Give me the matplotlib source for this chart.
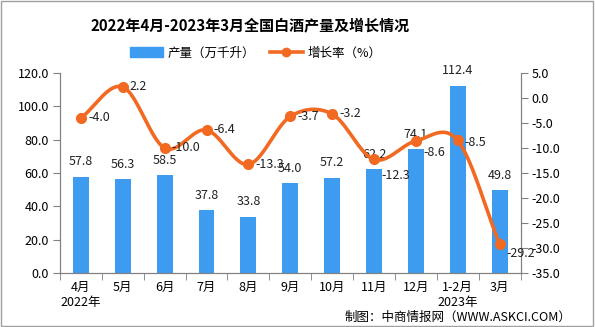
import numpy as np
import matplotlib.pyplot as plt
from matplotlib.lines import Line2D
from matplotlib.patches import Patch, Rectangle

plt.rcParams['font.family'] = ['Noto Sans CJK SC', 'DejaVu Sans']

months = ['4月\n2022年', '5月', '6月', '7月', '8月', '9月', '10月', '11月', '12月', '1-2月\n2023年', '3月']
output = [57.8, 56.3, 58.5, 37.8, 33.8, 54.0, 57.2, 62.2, 74.1, 112.4, 49.8]
growth = [-4.0, 2.2, -10.0, -6.4, -13.3, -3.7, -3.2, -12.3, -8.6, -8.5, -29.2]

bar_color = '#3d9cf0'
line_color = '#f26a22'


def smooth(x, y, n=30):
    # catmull-rom through the points, just for the curved look
    x = np.asarray(x, float)
    y = np.asarray(y, float)
    px = np.concatenate([[2 * x[0] - x[1]], x, [2 * x[-1] - x[-2]]])
    py = np.concatenate([[2 * y[0] - y[1]], y, [2 * y[-1] - y[-2]]])
    xs, ys = [], []
    t = np.linspace(0, 1, n)
    for i in range(1, len(px) - 2):
        for p, out in ((px, xs), (py, ys)):
            p0, p1, p2, p3 = p[i - 1], p[i], p[i + 1], p[i + 2]
            out.extend(0.5 * (2 * p1 + (-p0 + p2) * t + (2 * p0 - 5 * p1 + 4 * p2 - p3) * t ** 2
                              + (-p0 + 3 * p1 - 3 * p2 + p3) * t ** 3))
    return np.array(xs), np.array(ys)


fig = plt.figure(figsize=(5.95, 3.27), dpi=100)
fig.patches.append(Rectangle((0.002, 0.004), 0.995, 0.993, transform=fig.transFigure,
                             fill=False, edgecolor='#a0a0a0', lw=1))
ax = fig.add_axes([0.1008, 0.1651, 0.7740, 0.6117])
ax2 = ax.twinx()

x = np.arange(len(months))
ax.bar(x, output, width=0.38, color=bar_color, zorder=2)
for xi, v in zip(x, output):
    ax.text(xi, v + 5, f'{v:.1f}', ha='center', va='bottom', fontsize=9, color='#222222')

sx, sy = smooth(x, growth)
ax2.plot(sx, sy, color=line_color, lw=2.6, zorder=3)
ax2.plot(x, growth, 'o', color=line_color, ms=7, zorder=4)
# label nudges (in right-axis units) so they sit like the original
nudge = {7: -3.2, 8: -2.4, 9: -0.4, 10: -1.8}
for i, (xi, v) in enumerate(zip(x, growth)):
    ax2.text(xi + 0.17, v + nudge.get(i, 0), f'{v:.1f}', ha='left', va='center', fontsize=9,
             color='#222222', zorder=5)

ax.set_xlim(-0.5, len(months) - 0.5)
ax.set_ylim(0, 120)
ax.set_yticks(np.arange(0, 121, 20))
ax.set_yticklabels([f'{v:.1f}' for v in np.arange(0, 121, 20)])
ax2.set_ylim(-35, 5)
ax2.set_yticks(np.arange(-35, 6, 5))
ax2.set_yticklabels([f'{v:.1f}' for v in np.arange(-35, 6, 5)])

ax.set_xticks(x)
ax.set_xticklabels(months)
ax.set_xticks(np.arange(-0.5, len(months), 1), minor=True)
ax.tick_params(axis='x', which='major', length=0, pad=6, labelsize=9)
ax.tick_params(axis='x', which='minor', length=5, color='#808080')
ax.tick_params(axis='y', length=5, color='#808080', labelsize=9, pad=3)
ax2.tick_params(axis='y', length=5, color='#808080', labelsize=9, pad=3)

for a in (ax, ax2):
    a.spines['top'].set_visible(False)
    for s in ('left', 'right', 'bottom'):
        a.spines[s].set_color('#808080')

fig.text(0.421, 0.924, '2022年4月-2023年3月全国白酒产量及增长情况', ha='center', va='center',
         fontsize=10.8, fontweight='bold')
handles = [Patch(color=bar_color), Line2D([], [], color=line_color, lw=2.6, marker='o', ms=6)]
fig.legend(handles, ['产量（万千升）', '增长率（%）'], loc='center', bbox_to_anchor=(0.43, 0.838),
           ncol=2, frameon=False, fontsize=9, handlelength=2.6, handleheight=0.9, columnspacing=1.2,
           handletextpad=0.4)
fig.text(0.96, 0.03, '制图：中商情报网（WWW.ASKCI.COM）', ha='right', va='center', fontsize=9)

fig.savefig('out.png', dpi=100)
